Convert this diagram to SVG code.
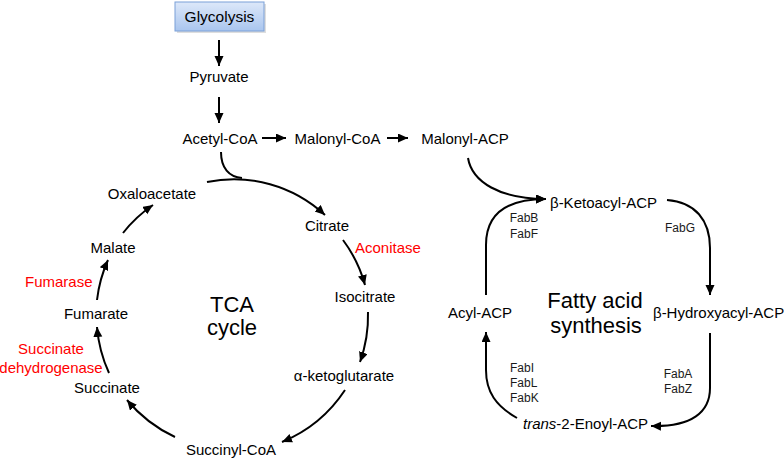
<svg xmlns="http://www.w3.org/2000/svg" width="784" height="460" viewBox="0 0 784 460">
<style>
text{font-family:"Liberation Sans",Arial,sans-serif;fill:#000}
.n{font-size:15px;text-anchor:middle}
.s{font-size:15px}
.r{font-size:15px;fill:#ff0000}
.big{font-size:22px;text-anchor:middle}
.e{font-size:12px;fill:#1a1a1a}
.c{text-anchor:middle}
.a{fill:none;stroke:#000;stroke-width:2}
</style>
<defs>
<marker id="ah" markerUnits="userSpaceOnUse" markerWidth="12" markerHeight="10" refX="10" refY="4.5" orient="auto">
<path d="M0,0 L10,4.5 L0,9 Z" fill="#000"/>
</marker>
<linearGradient id="gb" x1="0" y1="0" x2="0" y2="1">
<stop offset="0" stop-color="#dde8f9"/>
<stop offset="1" stop-color="#a9c5ee"/>
</linearGradient>
</defs>
<rect width="784" height="460" fill="#fff"/>

<g id="glycolysis">
<rect x="177" y="4" width="89" height="29" fill="#c8c8c8" opacity="0.6"/>
<rect x="175" y="2" width="89" height="29" fill="url(#gb)" stroke="#7aa0d8" stroke-width="1"/>
<text class="n" x="219.5" y="22" style="font-size:15.5px">Glycolysis</text>
</g>
<g id="pyruvate"><text class="n" x="219" y="82">Pyruvate</text></g>
<g id="acetylcoa"><text class="n" x="220" y="144">Acetyl-CoA</text></g>
<g id="malonylcoa"><text class="n" x="337.5" y="144">Malonyl-CoA</text></g>
<g id="malonylacp"><text class="n" x="465" y="144">Malonyl-ACP</text></g>

<g id="oxaloacetate"><text class="n" x="152" y="199">Oxaloacetate</text></g>
<g id="citrate"><text class="n" x="327" y="231">Citrate</text></g>
<g id="isocitrate"><text class="n" x="365" y="302">Isocitrate</text></g>
<g id="aketoglutarate"><text class="n" x="344" y="381">α-ketoglutarate</text></g>
<g id="succinylcoa"><text class="n" x="231" y="455">Succinyl-CoA</text></g>
<g id="succinate"><text class="n" x="107" y="393">Succinate</text></g>
<g id="fumarate"><text class="n" x="96" y="319">Fumarate</text></g>
<g id="malate"><text class="n" x="113" y="253">Malate</text></g>
<g id="tca"><text class="big" x="232" y="312">TCA</text><text class="big" x="232" y="335">cycle</text></g>
<g id="aconitase"><text class="r" x="355" y="253">Aconitase</text></g>
<g id="fumarase"><text class="r" x="25" y="287">Fumarase</text></g>
<g id="sdh"><text class="r c" x="51" y="354">Succinate</text><text class="r c" x="51" y="373">dehydrogenase</text></g>

<g id="ketoacyl"><text class="s" x="550" y="208">β-Ketoacyl-ACP</text></g>
<g id="hydroxyacyl"><text class="s" x="653" y="318">β-Hydroxyacyl-ACP</text></g>
<g id="enoyl"><text class="s" x="523" y="429"><tspan font-style="italic">trans</tspan>-2-Enoyl-ACP</text></g>
<g id="acylacp"><text class="n" x="480" y="318">Acyl-ACP</text></g>
<g id="fas"><text class="big" x="595" y="308">Fatty acid</text><text class="big" x="596" y="333">synthesis</text></g>
<g id="fabbf"><text class="e c" x="524" y="222">FabB</text><text class="e c" x="524" y="238">FabF</text></g>
<g id="fabg"><text class="e c" x="680" y="232">FabG</text></g>
<g id="fabilk"><text class="e" x="510" y="372">FabI</text><text class="e" x="510" y="387">FabL</text><text class="e" x="510" y="402">FabK</text></g>
<g id="fabaz"><text class="e c" x="678" y="378">FabA</text><text class="e c" x="678" y="393">FabZ</text></g>

<g id="connectors">
<path class="a" d="M219,40 L219,66" marker-end="url(#ah)"/>
<path class="a" d="M219,97 L219,123" marker-end="url(#ah)"/>
<path class="a" d="M262,138 L286,138" marker-end="url(#ah)"/>
<path class="a" d="M387,138 L408,138" marker-end="url(#ah)"/>
<path class="a" d="M221,152 C221,168 229,177 242,178"/>
<path class="a" d="M207,182 A134,134 0 0 1 325,215" marker-end="url(#ah)"/>
<path class="a" d="M343,240 A135,135 0 0 1 365,285" marker-end="url(#ah)"/>
<path class="a" d="M368,312 A137,137 0 0 1 360,362" marker-end="url(#ah)"/>
<path class="a" d="M345,390 A139,139 0 0 1 282,442" marker-end="url(#ah)"/>
<path class="a" d="M175,437 A138,138 0 0 1 127,400" marker-end="url(#ah)"/>
<path class="a" d="M109,373 A137,137 0 0 1 97,327" marker-end="url(#ah)"/>
<path class="a" d="M97,300 A135,135 0 0 1 108,260" marker-end="url(#ah)"/>
<path class="a" d="M123,233 A132,132 0 0 1 153,205" marker-end="url(#ah)"/>

<path class="a" d="M468,158 C472,182 500,199 546,199" marker-end="url(#ah)"/>
<path class="a" d="M486,295 L486,245 C486,215 505,199 546,199" marker-end="url(#ah)"/>
<path class="a" d="M667,200 C695,202 710,220 710,248 L710,295" marker-end="url(#ah)"/>
<path class="a" d="M710,333 L710,388 C710,412 692,427 651,426" marker-end="url(#ah)"/>
<path class="a" d="M517,418 C496,406 486,392 486,370 L486,332" marker-end="url(#ah)"/>
</g>
</svg>
